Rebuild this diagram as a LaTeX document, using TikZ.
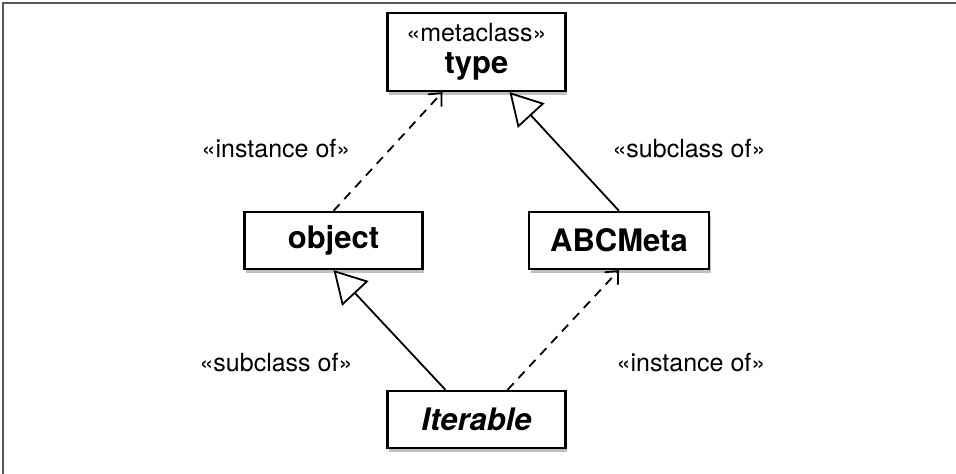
\documentclass[tikz,border=0pt]{standalone}
\usepackage{fontspec}
\setmainfont{TeX Gyre Heros}
\usepackage{tikz}
\usetikzlibrary{arrows.meta, shadows, positioning}

\begin{document}
\begin{tikzpicture}[
  x=0.5pt, y=-0.5pt,
  cls/.style={draw, line width=1.1pt, fill=white, minimum height=28.5pt, minimum width=89pt, align=center,
    font=\fontsize{15.5}{17}\selectfont\bfseries,
    drop shadow={shadow xshift=0.8pt, shadow yshift=-1.8pt, opacity=0.25, fill=black}},
  lbl/.style={font=\fontsize{12.5}{15}\selectfont},
  inst/.style={line width=0.9pt, dash pattern=on 4.5pt off 3.5pt, -{Straight Barb[length=5pt,width=9pt]}},
  sub/.style={line width=0.9pt, -{Triangle[open, length=16pt, width=18pt, line width=0.9pt]}}
]
\useasboundingbox (0,0) rectangle (956,474);
\draw[line width=1pt, black!65] (956,3) -- (3,3) -- (3,474);

\node[cls, minimum height=39pt] (type) at (476.5,52)
  {{\fontsize{12.5}{15}\selectfont\mdseries «metaclass»}\\[-1pt]type};
\node[cls] (object) at (333.5,240.5) {object};
\node[cls, minimum width=90pt] (abc) at (619,240.5) {ABCMeta};
\node[cls] (iter) at (476.5,419.5) {\itshape Iterable};

\node[lbl] (l1) at (276,149) {«instance of»};
\node[lbl] (l2) at (689,149) {«subclass of»};
\node[lbl] (l3) at (276,363) {«subclass of»};
\node[lbl] (l4) at (691,363) {«instance of»};

\draw[inst] (object.north) -- ([xshift=-17pt]type.south);
\draw[sub] (abc.north) -- ([xshift=16.5pt]type.south);
\draw[sub] ([xshift=-15.5pt]iter.north) -- (object.south);
\draw[inst] ([xshift=15.5pt]iter.north) -- (abc.south);
\end{tikzpicture}
\end{document}
